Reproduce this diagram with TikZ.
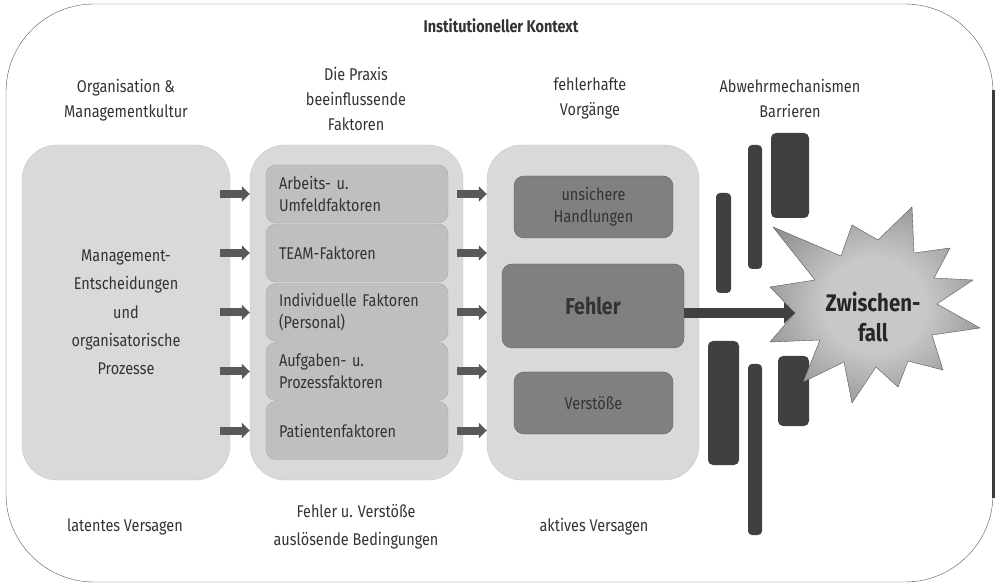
\documentclass[tikz,border=0pt]{standalone}
\usepackage{fontspec}
\setmainfont{Fira Sans}[FakeStretch=0.85]
\usetikzlibrary{arrows.meta}
\definecolor{textgray}{HTML}{333333}
\definecolor{framegray}{HTML}{555555}
\definecolor{colfill}{HTML}{D9D9D9}
\definecolor{colline}{HTML}{C6C6C6}
\definecolor{factfill}{HTML}{BFBFBF}
\definecolor{factline}{HTML}{A8A8A8}
\definecolor{actfill}{HTML}{808080}
\definecolor{actline}{HTML}{5E5E5E}
\definecolor{barrier}{HTML}{404040}
\definecolor{arrowgray}{HTML}{595959}
\definecolor{starlight}{HTML}{C8C8C8}
\definecolor{stardark}{HTML}{4E4E4E}
\pgfdeclareradialshading{starshade}{\pgfpoint{0bp}{0bp}}{color(0bp)=(starlight); color(12bp)=(starlight); color(50bp)=(stardark)}

\tikzset{
  label text/.style={text=textgray, font=\fontsize{17}{25}\selectfont, align=center},
  column/.style={draw=colline, fill=colfill, rounded corners=35pt, minimum height=335pt},
  factor/.style={draw=factline, fill=factfill, rounded corners=10pt, minimum width=182pt, minimum height=58pt,
    text width=156pt, inner xsep=13pt, align=left, text=textgray, font=\fontsize{17}{22}\selectfont},
  act/.style={draw=actline, fill=actfill, rounded corners=10pt, text=textgray, align=center, font=\fontsize{17}{22}\selectfont},
  thin arrow/.style={draw=arrowgray, line width=8pt, -{Triangle[length=8pt, width=15pt]}},
  thick arrow/.style={draw=barrier, line width=10pt, -{Triangle[length=11pt, width=21pt]}}
}

\begin{document}
\begin{tikzpicture}[x=1pt, y=-1pt]
  \useasboundingbox (0,0) rectangle (999,585);
  \draw[framegray, rounded corners=88pt] (6,4) rectangle (993,582);
  \draw[framegray!70!black, line width=2.5pt] (993.5,90) -- (993.5,498);

  \node[label text, font=\bfseries\fontsize{17}{25}\selectfont] (kontext) at (501,26) {Institutioneller Kontext};
  \node[label text] (orgkopf) at (126,100) {Organisation \&\\Managementkultur};
  \node[label text] (praxiskopf) at (356,99) {Die Praxis\\beeinflussende\\Faktoren};
  \node[label text] (vorgkopf) at (590,98) {fehlerhafte\\Vorgänge};
  \node[label text] (abwehrkopf) at (790,98) {Abwehrmechanismen\\Barrieren};

  \node[column, minimum width=208pt, label text, font=\fontsize{17}{28.3}\selectfont] (mgmt) at (126,312.5)
    {Management-\\Entscheidungen\\und\\organisatorische\\Prozesse};
  \node[column, minimum width=213pt] (praxis) at (356.5,312.5) {};
  \node[column, minimum width=212pt] (vorg) at (593,312.5) {};

  \node[factor] (f1) at (357,194) {Arbeits- u.\\Umfeldfaktoren};
  \node[factor] (f2) at (357,253) {TEAM-Faktoren};
  \node[factor] (f3) at (357,312.5) {Individuelle Faktoren\\(Personal)};
  \node[factor] (f4) at (357,371.5) {Aufgaben- u.\\Prozessfaktoren};
  \node[factor] (f5) at (357,430.5) {Patientenfaktoren};

  \foreach \f in {f1,f2,f3,f4,f5} {
    \draw[thin arrow] (mgmt.east |- \f) ++(-10,0) -- (\f -| praxis.west);
    \draw[thin arrow] (\f.east) ++(9,0) -- (\f.east -| vorg.west);
  }

  \node[act, minimum width=159pt, minimum height=62pt] (unsicher) at (593.5,207) {unsichere\\Handlungen};
  \node[act, minimum width=182pt, minimum height=84pt, font=\bfseries\fontsize{23}{28}\selectfont] (fehler) at (593,306) {Fehler};
  \node[act, minimum width=159pt, minimum height=62pt] (verstoss) at (593.5,403) {Verstöße};

  \fill[barrier, rounded corners=4pt] (716,193) rectangle (731,293);
  \fill[barrier, rounded corners=4pt] (748,145) rectangle (762,269);
  \fill[barrier, rounded corners=5pt] (771,133) rectangle (809,218);
  \fill[barrier, rounded corners=5pt] (708,341) rectangle (739,465);
  \fill[barrier, rounded corners=4pt] (748,364) rectangle (762,535);
  \fill[barrier, rounded corners=5pt] (778,356) rectangle (809,426);

  \shadedraw[draw=framegray, shading=starshade] (912,207) -- (878,240) -- (852,225) -- (841,256) -- (773,227)
    -- (815,280) -- (770,287) -- (795,313) -- (770,342) -- (820,340) -- (803,382) -- (844,362) -- (852,403)
    -- (876,367) -- (898,387) -- (908,361) -- (943,370) -- (932,335) -- (980,328) -- (937,304) -- (973,280)
    -- (934,278) -- (950,248) -- (914,253) -- cycle;
  \coordinate (notch) at (795,313);
  \node[font=\bfseries\fontsize{24}{30}\selectfont, text=black!85, align=center] (zwischenfall) at (873,317) {Zwischen-\\fall};
  \draw[thick arrow] (fehler.east |- notch) -- (notch);

  \node[label text] (latent) at (125,527) {latentes Versagen};
  \node[label text, font=\fontsize{17}{28}\selectfont] (bedingungen) at (356,527) {Fehler u. Verstöße\\auslösende Bedingungen};
  \node[label text] (aktiv) at (594,527) {aktives Versagen};
\end{tikzpicture}
\end{document}
